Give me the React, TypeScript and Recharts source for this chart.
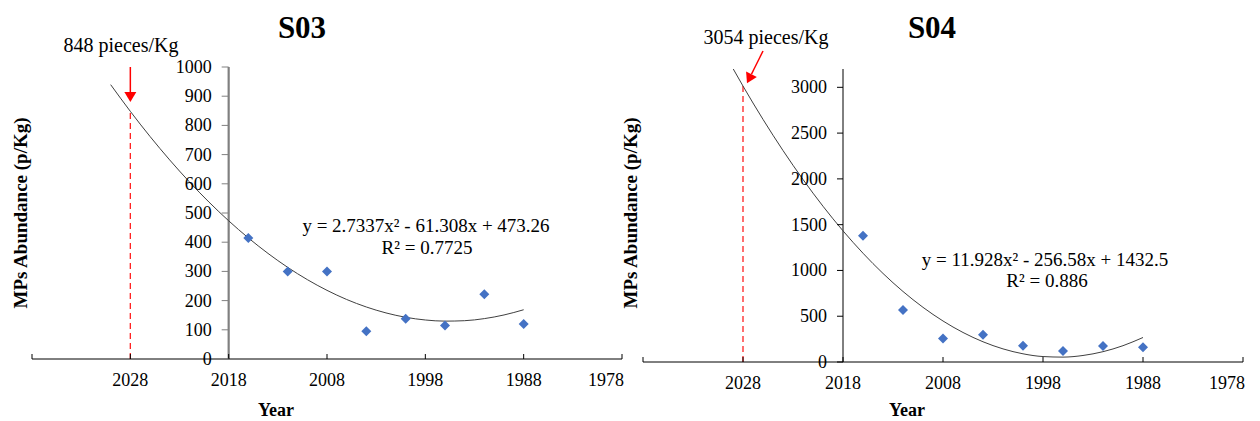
import {
    ComposedChart,
    Line,
    Scatter,
    XAxis,
    YAxis,
    ReferenceLine,
    ReferenceDot,
} from "recharts";

// sampling years (every 4 years) and measured abundance
const sampleYears = [2016, 2012, 2008, 2004, 2000, 1996, 1992, 1988];
const s03Values = [414, 300, 300, 95, 138, 115, 222, 120];
const s04Values = [1378, 567, 258, 298, 178, 120, 174, 160];

// trendline, 2-year steps
const trendYears = [2030, 2028, 2026, 2024, 2022, 2020, 2018, 2016, 2014, 2012, 2010, 2008, 2006, 2004, 2002, 2000, 1998, 1996, 1994, 1992, 1990, 1988];
const s03Trend = [939.5, 848.1, 762.2, 681.8, 606.8, 537.3, 473.3, 414.7, 361.6, 313.9, 271.8, 235.1, 203.8, 178.1, 157.8, 142.9, 133.6, 129.7, 131.2, 138.3, 150.8, 168.7];
const s04Trend = [3401.4, 3013.6, 2649.7, 2309.6, 1993.4, 1701.0, 1432.5, 1187.9, 967.1, 770.1, 597.0, 447.8, 322.4, 220.9, 143.3, 89.5, 59.5, 53.4, 71.2, 112.8, 178.3, 267.6];

const xTicks = [2038, 2028, 2018, 2008, 1998, 1988, 1978];
const s03YTicks = [0, 100, 200, 300, 400, 500, 600, 700, 800, 900, 1000];
const s04YTicks = [0, 500, 1000, 1500, 2000, 2500, 3000];

const FONT = '"Liberation Serif", "Times New Roman", serif';

const XTick = (props: any) => {
    const { x, y, payload } = props;
    if (payload.value === 2038) return null;
    const last = payload.value === 1978;
    return (
        <text
            x={last ? x + 2 : x}
            y={y + 32}
            textAnchor={last ? "end" : "middle"}
            style={{ fontFamily: FONT, fontSize: 18 }}
            fill="#000"
        >
            {payload.value}
        </text>
    );
};

const ArrowShape = (p: any) => {
    const { x1, y1, x2, y2 } = p;
    const len = Math.hypot(x2 - x1, y2 - y1);
    const ux = (x2 - x1) / len;
    const uy = (y2 - y1) / len;
    const bx = x2 - ux * 10;
    const by = y2 - uy * 10;
    const nx = -uy * 6;
    const ny = ux * 6;
    return (
        <g>
            <line x1={x1} y1={y1} x2={bx} y2={by} stroke="#ff0000" strokeWidth={1.5} />
            <polygon points={`${x2},${y2} ${bx + nx},${by + ny} ${bx - nx},${by - ny}`} fill="#ff0000" />
        </g>
    );
};

const Diamond = (p: any) => {
    const { cx, cy } = p;
    return <polygon points={`${cx},${cy - 5} ${cx + 5},${cy} ${cx},${cy + 5} ${cx - 5},${cy}`} fill="#4472C4" />;
};

interface PanelProps {
    values: number[];
    trend: number[];
    yMax: number;
    yTicks: number[];
    forecast: number;
    arrowFrom: { x: number; y: number };
    arrowTo: { x: number; y: number };
    axisColor: string;
    axisWidth: number;
    tickLen: number;
    labelGap: number;
    margin: { top: number; right: number; bottom: number; left: number };
}

function Panel({ values, trend, yMax, yTicks, forecast, arrowFrom, arrowTo, axisColor, axisWidth, tickLen, labelGap, margin }: PanelProps) {
    const trendData = trendYears.map((year, i) => ({ year, v: trend[i] }));
    const points = sampleYears.map((year, i) => ({ year, v: values[i] }));

    return (
        <ComposedChart width={630} height={421} data={trendData} margin={margin}>
            <XAxis
                dataKey="year"
                type="number"
                domain={[1978, 2038]}
                reversed
                ticks={xTicks}
                height={50}
                tickSize={-5}
                tickMargin={0}
                axisLine={{ stroke: "#000" }}
                tickLine={{ stroke: "#000" }}
                tick={<XTick />}
                interval={0}
            />
            <YAxis hide dataKey="v" type="number" domain={[0, yMax]} allowDataOverflow />
            <ReferenceLine x={2018} stroke={axisColor} strokeWidth={axisWidth} />
            {yTicks.map((t) => (
                <ReferenceDot
                    key={t}
                    x={2018}
                    y={t}
                    shape={(p: any) => (
                        <g>
                            <line x1={p.cx - tickLen} y1={p.cy} x2={p.cx} y2={p.cy} stroke={axisColor} strokeWidth={1} />
                            <text
                                x={p.cx - labelGap}
                                y={p.cy + 6}
                                textAnchor="end"
                                style={{ fontFamily: FONT, fontSize: 18 }}
                                fill="#000"
                            >
                                {t}
                            </text>
                        </g>
                    )}
                />
            ))}
            <ReferenceLine
                segment={[{ x: 2028, y: 0 }, { x: 2028, y: forecast }]}
                stroke="#ff2020"
                strokeWidth={1.3}
                strokeDasharray="6 4"
            />
            <ReferenceLine segment={[arrowFrom, arrowTo]} ifOverflow="visible" shape={ArrowShape} />
            <Line dataKey="v" type="monotone" dot={false} stroke="#404040" strokeWidth={1} isAnimationActive={false} />
            <Scatter data={points} shape={Diamond} isAnimationActive={false} />
        </ComposedChart>
    );
}

const centered = (x: number, y: number, extra: any = {}) => ({
    position: "absolute" as const,
    left: x,
    top: y,
    transform: "translate(-50%, -50%)",
    whiteSpace: "nowrap" as const,
    fontFamily: FONT,
    color: "#000",
    lineHeight: 1,
    ...extra,
});

export default function App() {
    return (
        <div style={{ position: "fixed", left: 0, top: 0, width: 1260, height: 421, background: "#fff" }}>
            <div style={{ position: "absolute", left: 0, top: 0 }}>
                <Panel
                    values={s03Values}
                    trend={s03Trend}
                    yMax={1000}
                    yTicks={s03YTicks}
                    forecast={848}
                    arrowFrom={{ x: 2028, y: 1000 }}
                    arrowTo={{ x: 2028, y: 880 }}
                    axisColor="#808080"
                    axisWidth={2.2}
                    tickLen={7}
                    labelGap={17}
                    margin={{ top: 67, right: 8, bottom: 12, left: 32 }}
                />
            </div>
            <div style={{ position: "absolute", left: 630, top: 0 }}>
                <Panel
                    values={s04Values}
                    trend={s04Trend}
                    yMax={3200}
                    yTicks={s04YTicks}
                    forecast={3040}
                    arrowFrom={{ x: 2026, y: 3397 }}
                    arrowTo={{ x: 2027.6, y: 3045 }}
                    axisColor="#000"
                    axisWidth={1}
                    tickLen={6}
                    labelGap={16}
                    margin={{ top: 69, right: 17, bottom: 9, left: 13 }}
                />
            </div>

            <div style={centered(302, 27, { fontSize: 31, fontWeight: "bold" })}>S03</div>
            <div style={centered(121, 45, { fontSize: 20 })}>848 pieces/Kg</div>
            <div style={centered(426, 225, { fontSize: 19 })}>y = 2.7337x² - 61.308x + 473.26</div>
            <div style={centered(427, 247, { fontSize: 19 })}>R² = 0.7725</div>
            <div style={centered(20, 213, { fontSize: 19, fontWeight: "bold", transform: "translate(-50%, -50%) rotate(-90deg)" })}>
                MPs Abundance (p/Kg)
            </div>
            <div style={centered(276, 410, { fontSize: 18, fontWeight: "bold" })}>Year</div>

            <div style={centered(932, 27, { fontSize: 31, fontWeight: "bold" })}>S04</div>
            <div style={centered(766, 37, { fontSize: 20 })}>3054 pieces/Kg</div>
            <div style={centered(1045, 259, { fontSize: 19 })}>y = 11.928x² - 256.58x + 1432.5</div>
            <div style={centered(1047, 280, { fontSize: 19 })}>R² = 0.886</div>
            <div style={centered(630, 213, { fontSize: 19, fontWeight: "bold", transform: "translate(-50%, -50%) rotate(-90deg)" })}>
                MPs Abundance (p/Kg)
            </div>
            <div style={centered(907, 410, { fontSize: 18, fontWeight: "bold" })}>Year</div>
        </div>
    );
}
